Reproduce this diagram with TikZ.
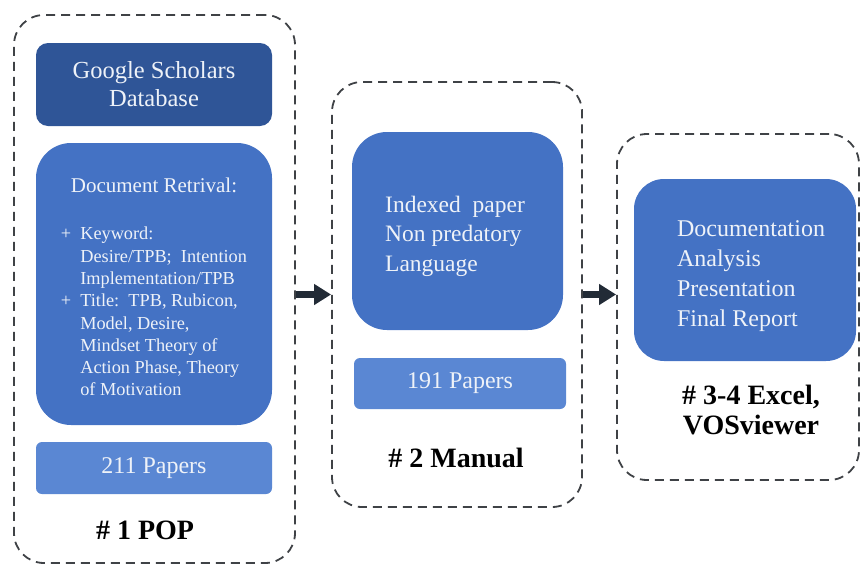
\documentclass[tikz,border=0pt]{standalone}
\usepackage{fontspec}
\setmainfont{Liberation Serif}
\usetikzlibrary{arrows.meta}
\definecolor{darkblue}{HTML}{2F5597}
\definecolor{midblue}{HTML}{4472C4}
\definecolor{lightblue}{HTML}{5A87D3}
\definecolor{framegray}{HTML}{3F4246}
\definecolor{arrowink}{HTML}{222B36}
\definecolor{paletext}{HTML}{EEF2F8}
\tikzset{
  stageframe/.style={draw=framegray,line width=1.8pt,dash pattern=on 9pt off 6pt,
    rounded corners=30pt,inner sep=0pt},
  blueblock/.style={inner sep=0pt,text=paletext,font=\fontsize{24}{29.5}\selectfont},
  blocktext/.style={inner sep=0pt,text=paletext,font=\fontsize{23.5}{29.5}\selectfont},
  stagelabel/.style={font=\fontsize{28}{30}\selectfont\bfseries,inner sep=0pt},
  flowarrow/.style={draw=arrowink,line width=7pt,-{Triangle[length=17pt,width=20pt]}}
}
\begin{document}
\begin{tikzpicture}[x=1pt,y=-1pt]
  \useasboundingbox (0,0) rectangle (861,565);
  % stage frames
  \node[stageframe,minimum width=281pt,minimum height=548pt] (popframe) at (154.5,289) {};
  \node[stageframe,minimum width=250pt,minimum height=425pt] (manualframe) at (457,294.5) {};
  \node[stageframe,minimum width=242pt,minimum height=346pt] (toolframe) at (738,307) {};
  % stage 1
  \node[blueblock,fill=darkblue,rounded corners=12pt,minimum width=236pt,minimum height=83pt,
    align=center,font=\fontsize{24.5}{28}\selectfont] (scholar) at (154,84.5) {Google Scholars\\Database};
  \node[blueblock,fill=midblue,rounded corners=35pt,minimum width=236pt,minimum height=282pt] (retrieval) at (154,284) {};
  \node[blocktext,align=center] (retrievaltext) at (154,290.5)
    {\fontsize{21}{23}\selectfont Document Retrival:\\[30pt]
     \fontsize{18.3}{22.3}\selectfont
     \begin{tabular}{@{}l@{\hspace{9pt}}l@{}}
       + & Keyword:\\
         & Desire/TPB;\ \ Intention\\
         & Implementation/TPB\\
       + & Title:\ \ TPB, Rubicon,\\
         & Model, Desire,\\
         & Mindset Theory of\\
         & Action Phase, Theory\\
         & of Motivation
     \end{tabular}};
  \node[blueblock,fill=lightblue,rounded corners=6pt,minimum width=236pt,minimum height=52pt] (popcount) at (154,468) {211 Papers};
  \node[stagelabel] (poplabel) at (145,530) {\# 1 POP};
  % stage 2
  \node[blueblock,fill=midblue,rounded corners=35pt,minimum width=211pt,minimum height=198pt] (criteria) at (457.5,231) {};
  \node[blocktext,align=left] (criteriatext) at (455,236) {Indexed\ \ paper\\Non predatory\\Language};
  \node[blueblock,fill=lightblue,rounded corners=6pt,minimum width=212pt,minimum height=51pt] (manualcount) at (460,383.5) {191 Papers};
  \node[stagelabel] (manuallabel) at (456,458) {\# 2 Manual};
  % stage 3-4
  \node[blueblock,fill=midblue,rounded corners=30pt,minimum width=222pt,minimum height=182pt] (reporting) at (745,270) {};
  \node[blocktext,align=left,font=\fontsize{24}{30}\selectfont] (reportingtext) at (751,276) {Documentation\\Analysis\\Presentation\\Final Report};
  \node[stagelabel,align=center] (toollabel) at (751,410) {\# 3-4 Excel,\\VOSviewer};
  % arrows
  \draw[flowarrow] (popframe.east |- manualframe.west) -- (manualframe.west);
  \draw[flowarrow] (manualframe.east) -- (manualframe.east -| toolframe.west);
\end{tikzpicture}
\end{document}
